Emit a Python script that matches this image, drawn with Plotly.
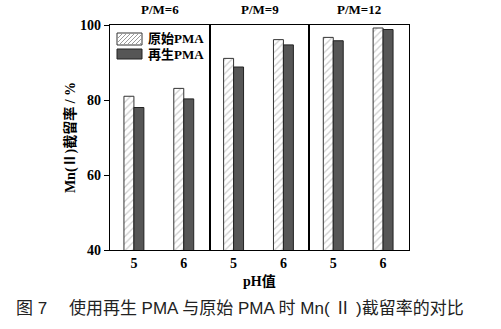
import plotly.graph_objects as go
from plotly.subplots import make_subplots

# Mn(II) retention (%) for pristine vs regenerated PMA at each P/M ratio
ratios = ["P/M=6", "P/M=9", "P/M=12"]
ph_values = ["5", "6"]
pristine = [[81.0, 83.1], [91.1, 96.1], [96.7, 99.2]]
regenerated = [[78.0, 80.3], [88.8, 94.7], [95.8, 98.8]]
y_ticks = [40, 60, 80, 100]
series_names = ["原始PMA", "再生PMA"]

W, H = 501, 329
ML, MR, MT, MB = 110, 92, 25, 79
PW, PH = W - ML - MR, H - MT - MB

serif = "Liberation Serif"
mixed = "Liberation Serif, Noto Sans CJK SC"
sans_mixed = "Liberation Sans, Noto Sans CJK SC"
hatch_gray = "#9a9a9a"
dark = "#565656"

fig = make_subplots(rows=1, cols=3, shared_yaxes=True, horizontal_spacing=0)

for i in range(3):
    col = i + 1
    fig.add_trace(go.Bar(
        x=ph_values, y=pristine[i], name=series_names[0],
        marker=dict(color="white", line=dict(color="#333333", width=1),
                    pattern=dict(shape="/", fgcolor=hatch_gray, bgcolor="white",
                                 size=5, solidity=0.25)),
        showlegend=False), row=1, col=col)
    fig.add_trace(go.Bar(
        x=ph_values, y=regenerated[i], name=series_names[1],
        marker=dict(color=dark, line=dict(color="#222222", width=1)),
        showlegend=False), row=1, col=col)

axis_font = dict(family=serif, size=14, color="black", weight="bold")
for i in range(3):
    fig.update_xaxes(row=1, col=i + 1, type="category", range=[-0.48, 1.52],
                     showline=True, linecolor="black", linewidth=1.2, mirror=True,
                     ticks="", tickfont=axis_font, showgrid=False)
fig.update_yaxes(range=[40, 100], tickvals=y_ticks, showgrid=False, zeroline=False,
                 showline=True, linecolor="black", linewidth=1.2, mirror=True,
                 ticks="", tickfont=axis_font)
fig.update_yaxes(row=1, col=1, ticks="outside", ticklen=5, tickwidth=1.2,
                 tickcolor="black",
                 title=dict(text="Mn(Ⅱ)截留率 / %", standoff=1,
                            font=dict(family=mixed, size=14, color="black", weight="bold")))

# P/M labels above each panel
for i, r in enumerate(ratios):
    fig.add_annotation(text=r, xref=f"x{'' if i == 0 else i + 1} domain", yref="paper",
                       x=0.5, y=1.0, yshift=6, yanchor="bottom", showarrow=False,
                       font=dict(family=serif, size=13, color="black", weight="bold"))


# Legend drawn as boxes in pixel space, converted to paper coordinates
def px(x):
    return (x - ML) / PW


def py(y):
    return (H - MB - y) / PH


def hatch_segments(x0, x1, top, bottom, step):
    # "/" lines clipped to the box; u measured upward from the box bottom
    w, h = x1 - x0, bottom - top
    segs = []
    c = -h + step / 2
    while c < w:
        u_start = max(0, -c)
        u_end = min(h, w - c)
        if u_end > u_start:
            segs.append((x0 + c + u_start, bottom - u_start, x0 + c + u_end, bottom - u_end))
        c += step
    return segs


shapes = []
lx0, lx1 = 117, 142
boxes = [(33, 45), (49, 59)]
shapes.append(dict(type="rect", xref="paper", yref="paper", x0=px(lx0), x1=px(lx1),
                   y0=py(boxes[0][1]), y1=py(boxes[0][0]), fillcolor="white",
                   line=dict(color="#333333", width=1)))
for (sx0, sy0, sx1, sy1) in hatch_segments(lx0, lx1, boxes[0][0], boxes[0][1], 4):
    shapes.append(dict(type="line", xref="paper", yref="paper", x0=px(sx0), y0=py(sy0),
                       x1=px(sx1), y1=py(sy1), line=dict(color=hatch_gray, width=1)))
shapes.append(dict(type="rect", xref="paper", yref="paper", x0=px(lx0), x1=px(lx1),
                   y0=py(boxes[1][1]), y1=py(boxes[1][0]), fillcolor=dark,
                   line=dict(color="#222222", width=1)))
for k, (b0, b1) in enumerate(boxes):
    fig.add_annotation(text=series_names[k], xref="paper", yref="paper",
                       x=px(146), y=py((b0 + b1) / 2), xanchor="left", yanchor="middle",
                       showarrow=False,
                       font=dict(family=mixed, size=13, color="black", weight="bold"))

fig.add_annotation(text="pH值", xref="paper", yref="paper", x=0.5, y=py(281),
                   yanchor="middle", showarrow=False,
                   font=dict(family=mixed, size=14, color="black", weight="bold"))
fig.add_annotation(text="图 7　 使用再生 PMA 与原始 PMA 时 Mn( Ⅱ )截留率的对比",
                   xref="paper", yref="paper", x=px(14), y=py(308), xanchor="left",
                   yanchor="middle", showarrow=False,
                   font=dict(family=sans_mixed, size=17, color="#222222"))

fig.update_layout(
    width=W, height=H,
    margin=dict(l=ML, r=MR, t=MT, b=MB),
    paper_bgcolor="white", plot_bgcolor="white",
    barmode="group", bargap=0.6, bargroupgap=0,
    shapes=shapes,
    showlegend=False,
)

fig.write_html("out.html")
